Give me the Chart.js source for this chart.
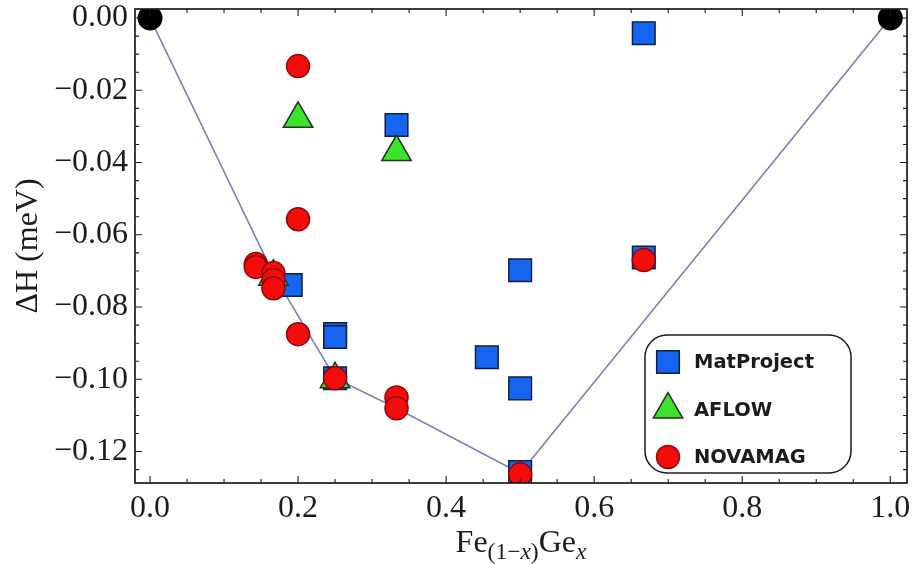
<!DOCTYPE html>
<html>
<head>
<meta charset="utf-8">
<script src="https://cdn.jsdelivr.net/npm/chart.js@4"></script>
<style>
  html, body { margin: 0; padding: 0; background: #fff; }
</style>
</head>
<body>
<canvas id="plot" width="914" height="564"></canvas>
<script>
// data
const matX = [0.667, 0.333, 0.5, 0.667, 0.19, 0.25, 0.25, 0.25, 0.455, 0.5, 0.5];
const matY = [-0.0042, -0.0296, -0.0698, -0.0663, -0.0739, -0.0875, -0.0883, -0.0997, -0.0939, -0.1025, -0.1257];

const aflowX = [0.2, 0.333, 0.1667, 0.25];
const aflowY = [-0.0279, -0.0371, -0.0716, -0.1000];

const novaX = [0.2, 0.2, 0.1429, 0.1429, 0.1667, 0.1667, 0.1667, 0.2, 0.25, 0.333, 0.333, 0.5, 0.667];
const novaY = [-0.0133, -0.0557, -0.0681, -0.0689, -0.0706, -0.0725, -0.0748, -0.0875, -0.0997, -0.1050, -0.1080, -0.1263, -0.0670];

const hullX = [0, 0.1667, 0.25, 0.333, 0.5, 1];
const hullY = [0, -0.0709, -0.0997, -0.1080, -0.1260, 0];

const endX = [0, 1];
const endY = [0, 0];

const xTicks = [0, 0.2, 0.4, 0.6, 0.8, 1.0];
const yTicks = [0, -0.02, -0.04, -0.06, -0.08, -0.10, -0.12];

const pts = (xs, ys) => xs.map((x, i) => ({x: x, y: ys[i]}));
const ink = '#1c1c1c';
const noPad = () => ({left: 0, top: 0, right: 0, bottom: 0});

// legend markers, same shapes as chart.js point styles
function marker(ctx, style, r, x, y) {
    ctx.beginPath();
    if (style === 'rect') {
        const s = r * Math.SQRT1_2;
        ctx.rect(x - s, y - s, 2 * s, 2 * s);
    } else if (style === 'triangle') {
        ctx.moveTo(x, y - r);
        ctx.lineTo(x + r * 0.866, y + r * 0.5);
        ctx.lineTo(x - r * 0.866, y + r * 0.5);
        ctx.closePath();
    } else {
        ctx.arc(x, y, r, 0, Math.PI * 2);
    }
    ctx.fill();
    ctx.stroke();
}

// frame, inward ticks (major + minor) on all four sides, x title
const framePlugin = {
    id: 'frame',
    afterDraw(chart) {
        const ctx = chart.ctx, a = chart.chartArea;
        const xs = chart.scales.x, ys = chart.scales.y;
        ctx.save();
        ctx.strokeStyle = ink;
        ctx.lineWidth = 1.7;
        ctx.strokeRect(a.left, a.top, a.right - a.left, a.bottom - a.top);
        ctx.lineWidth = 1.1;
        ctx.beginPath();
        for (let i = 0; i <= 20; i++) {
            const len = i % 4 === 0 ? 7 : 4;
            const p = xs.getPixelForValue(i * 0.05);
            ctx.moveTo(p, a.bottom); ctx.lineTo(p, a.bottom - len);
            ctx.moveTo(p, a.top); ctx.lineTo(p, a.top + len);
        }
        for (let i = 0; i <= 25; i++) {
            const len = i % 4 === 0 ? 7 : 4;
            const p = ys.getPixelForValue(-i * 0.005);
            ctx.moveTo(a.left, p); ctx.lineTo(a.left + len, p);
            ctx.moveTo(a.right, p); ctx.lineTo(a.right - len, p);
        }
        ctx.stroke();

        const big = '32px "Liberation Serif"';
        const sub = '23.5px "Liberation Serif"';
        const subIt = 'italic 23.5px "Liberation Serif"';
        const parts = [
            ['Fe', big, 0], ['(1\u2212', sub, 7], ['x', subIt, 7], [')', sub, 7],
            ['Ge', big, 0], ['x', subIt, 7]
        ];
        let total = 0;
        parts.forEach(p => { ctx.font = p[1]; total += ctx.measureText(p[0]).width; });
        let cx = (a.left + a.right) / 2 - total / 2;
        ctx.fillStyle = ink;
        ctx.textBaseline = 'alphabetic';
        ctx.textAlign = 'left';
        parts.forEach(p => {
            ctx.font = p[1];
            ctx.fillText(p[0], cx, 552 + p[2]);
            cx += ctx.measureText(p[0]).width;
        });
        ctx.restore();
    }
};

// rounded legend box inside the plot
const boxLegend = {
    id: 'boxLegend',
    afterDraw(chart) {
        const ctx = chart.ctx;
        const items = chart.data.datasets.filter(d => d.inLegend);
        ctx.save();
        ctx.fillStyle = '#fff';
        ctx.strokeStyle = ink;
        ctx.lineWidth = 1.5;
        ctx.beginPath();
        ctx.roundRect(645, 335, 206, 138, 22);
        ctx.fill();
        ctx.stroke();
        items.forEach((d, i) => {
            const y = 362 + i * 47.5;
            ctx.fillStyle = d.backgroundColor;
            ctx.strokeStyle = d.borderColor;
            ctx.lineWidth = d.borderWidth;
            marker(ctx, d.pointStyle, d.pointRadius, 668, y);
            ctx.fillStyle = ink;
            ctx.font = 'bold 19.5px "DejaVu Sans"';
            ctx.textBaseline = 'middle';
            ctx.textAlign = 'left';
            ctx.fillText(d.label, 694, y + 1);
        });
        ctx.restore();
    }
};

new Chart(document.getElementById('plot').getContext('2d'), {
    type: 'scatter',
    data: {
        datasets: [{
            label: 'hull',
            data: pts(hullX, hullY),
            showLine: true,
            borderColor: '#7c80b4',
            borderWidth: 1.6,
            pointRadius: 0,
            order: 6
        }, {
            label: 'ends',
            data: pts(endX, endY),
            backgroundColor: '#000',
            borderColor: '#000',
            pointRadius: 12.5,
            borderWidth: 0,
            order: 5
        }, {
            label: 'MatProject',
            inLegend: true,
            data: pts(matX, matY),
            pointStyle: 'rect',
            pointRadius: 16,
            backgroundColor: '#1565f0',
            borderColor: '#0e1f48',
            borderWidth: 1.5,
            order: 3
        }, {
            label: 'AFLOW',
            inLegend: true,
            data: pts(aflowX, aflowY),
            pointStyle: 'triangle',
            pointRadius: 17,
            backgroundColor: '#3ee22c',
            borderColor: '#22341a',
            borderWidth: 1.5,
            order: 2
        }, {
            label: 'NOVAMAG',
            inLegend: true,
            data: pts(novaX, novaY),
            pointStyle: 'circle',
            pointRadius: 11.5,
            backgroundColor: '#f20c0c',
            borderColor: '#8a0a0a',
            borderWidth: 1.5,
            order: 1
        }]
    },
    options: {
        responsive: false,
        animation: false,
        layout: { autoPadding: false, padding: { left: 0, top: 9, right: 7, bottom: 0 } },
        plugins: {
            legend: { display: false },
            tooltip: { enabled: false }
        },
        scales: {
            x: {
                type: 'linear',
                min: -0.0203,
                max: 1.0226,
                grid: { display: false, drawTicks: false },
                border: { display: false },
                afterBuildTicks: s => { s.ticks = xTicks.map(v => ({value: v})); },
                afterFit: s => {
                    s.height = 81;
                    s.paddingLeft = 0; s.paddingRight = 0;
                    s.getPadding = noPad;
                },
                ticks: {
                    padding: 6,
                    color: ink,
                    maxRotation: 0,
                    autoSkip: false,
                    font: { family: '"Liberation Serif"', size: 32 },
                    callback: v => v.toFixed(1)
                }
            },
            y: {
                type: 'linear',
                min: -0.1287,
                max: 0.0025,
                grid: { display: false, drawTicks: false },
                border: { display: false },
                afterBuildTicks: s => { s.ticks = yTicks.map(v => ({value: v})); },
                afterFit: s => {
                    s.width = 135;
                    s.paddingTop = 0; s.paddingBottom = 0;
                    s.getPadding = noPad;
                },
                title: {
                    display: true,
                    text: '\u0394H (meV)',
                    color: ink,
                    padding: { top: 9, bottom: 0 },
                    font: { family: '"Liberation Serif"', size: 32 }
                },
                ticks: {
                    padding: 7,
                    color: ink,
                    autoSkip: false,
                    font: { family: '"Liberation Serif"', size: 32 },
                    callback: v => (v < 0 ? '\u2212' : '') + Math.abs(v).toFixed(2)
                }
            }
        }
    },
    plugins: [framePlugin, boxLegend]
});
</script>
</body>
</html>
